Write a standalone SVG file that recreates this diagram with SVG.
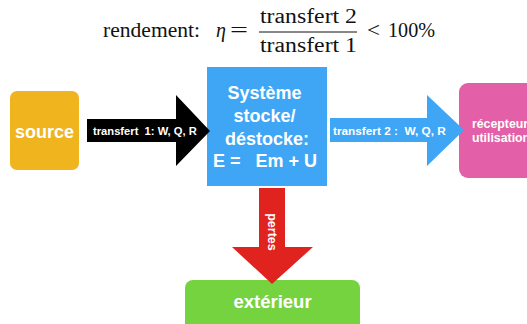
<svg xmlns="http://www.w3.org/2000/svg" width="527" height="324" viewBox="0 0 527 324">
<style>
.lbl{font-family:"Liberation Sans",Arial,sans-serif;font-weight:bold;fill:#fff}
.m{font-family:"Liberation Serif","Times New Roman",serif;font-size:20px;fill:#111}
</style>
<rect width="527" height="324" fill="#fff"/>
<g id="title">
<text class="m" x="103" y="37" textLength="97" lengthAdjust="spacingAndGlyphs">rendement:</text>
<text class="m" x="216" y="37" font-style="italic">η</text>
<text class="m" x="230" y="37" textLength="18" lengthAdjust="spacingAndGlyphs">=</text>
<text class="m" x="260" y="23" textLength="97" lengthAdjust="spacingAndGlyphs">transfert 2</text>
<line x1="259" y1="32" x2="357" y2="32" stroke="#111" stroke-width="1"/>
<text class="m" x="260" y="52" textLength="97" lengthAdjust="spacingAndGlyphs">transfert 1</text>
<text class="m" x="367" y="37" textLength="13" lengthAdjust="spacingAndGlyphs">&lt;</text>
<text class="m" x="388" y="37" textLength="47" lengthAdjust="spacingAndGlyphs">100%</text>
</g>
<g id="source">
<rect x="10" y="91" width="69" height="79" rx="7" fill="#F0B41E"/>
<text class="lbl" x="44.5" y="138" font-size="18" text-anchor="middle">source</text>
</g>
<g id="systeme">
<rect x="207" y="67" width="120" height="119" fill="#3FA6F6"/>
<text class="lbl" font-size="18" text-anchor="middle">
<tspan x="267" y="99">Système</tspan>
<tspan x="267" y="122">stocke/</tspan>
<tspan x="267" y="145">déstocke:</tspan>
</text>
<text class="lbl" font-size="18" x="213" y="167" xml:space="preserve">E =   Em + U</text>
</g>
<g id="recepteur">
<rect x="459" y="83" width="80" height="95" rx="9" fill="#E35FA7"/>
<text class="lbl" font-size="12.3"><tspan x="472" y="128">récepteur</tspan><tspan x="472" y="142">utilisation</tspan></text>
</g>
<g id="exterieur">
<rect x="185" y="280" width="175" height="56" rx="8" fill="#74D33F"/>
<text class="lbl" x="272.5" y="308" font-size="18.5" text-anchor="middle">extérieur</text>
</g>
<g id="connectors">
<g id="transfert1">
<polygon points="87,119 176,119 176,95 210,131 176,166 176,142 87,142" fill="#000"/>
<text class="lbl" x="93" y="135" font-size="11.2" xml:space="preserve">transfert  1: W, Q, R</text>
</g>
<g id="transfert2">
<polygon points="330,118 427,118 427,95 464,130 427,166 427,142 330,142" fill="#3FA6F6"/>
<text class="lbl" x="333" y="134.5" font-size="11.8" xml:space="preserve">transfert 2 :  W, Q, R</text>
</g>
<g id="pertes">
<polygon points="259,188 285,188 285,247 313,247 272,284 232,247 259,247" fill="#E1231F"/>
<text class="lbl" font-size="12.5" text-anchor="middle" transform="translate(272,232) rotate(90)" x="0" y="4">pertes</text>
</g>
</g>
</svg>
